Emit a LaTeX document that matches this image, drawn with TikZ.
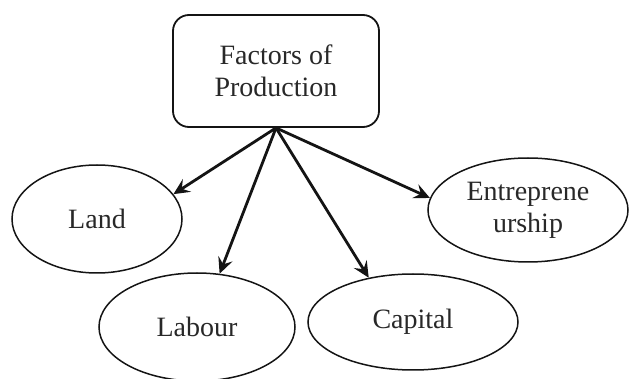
\documentclass[tikz,border=0pt]{standalone}
\usepackage{fontspec}
\setmainfont{Liberation Serif}
\usetikzlibrary{shapes.geometric,arrows.meta}
\definecolor{fptext}{RGB}{40, 40, 40}
\definecolor{fpline}{RGB}{20, 20, 20}

\begin{document}
\begin{tikzpicture}[x=1pt, y=-1pt,
  factor/.style={ellipse, draw=fpline, line width=1.5pt, inner sep=0pt,
    text=fptext, align=center, font=\fontsize{28}{32}\selectfont},
  link/.style={draw=fpline, line width=2.8pt,
    -{Stealth[length=16pt, width=15pt, inset=6pt]}}]
\useasboundingbox (0,0) rectangle (630,379);
% Top box
\node[draw=fpline, line width=1.8pt, rounded corners=16pt,
  minimum width=206pt, minimum height=112pt, inner sep=0pt,
  text=fptext, align=center, font=\fontsize{28}{32}\selectfont]
  (fop) at (276,71) {Factors of\\Production};

% The four factors
\node[factor, minimum width=170pt, minimum height=108pt] (land) at (97,219) {Land};
\node[factor, minimum width=196pt, minimum height=108pt] (labour) at (197,327) {Labour};
\node[factor, minimum width=210pt, minimum height=96pt] (capital) at (413,322) {Capital};
\node[factor, minimum width=200pt, minimum height=104pt] (entre) at (528,210) {Entreprene\\urship};

% Arrows
\foreach \target/\ang in {land/18, labour/67, capital/135, entre/173} {
  \draw[link] (fop.south) -- (\target.\ang);
}
\end{tikzpicture}
\end{document}
